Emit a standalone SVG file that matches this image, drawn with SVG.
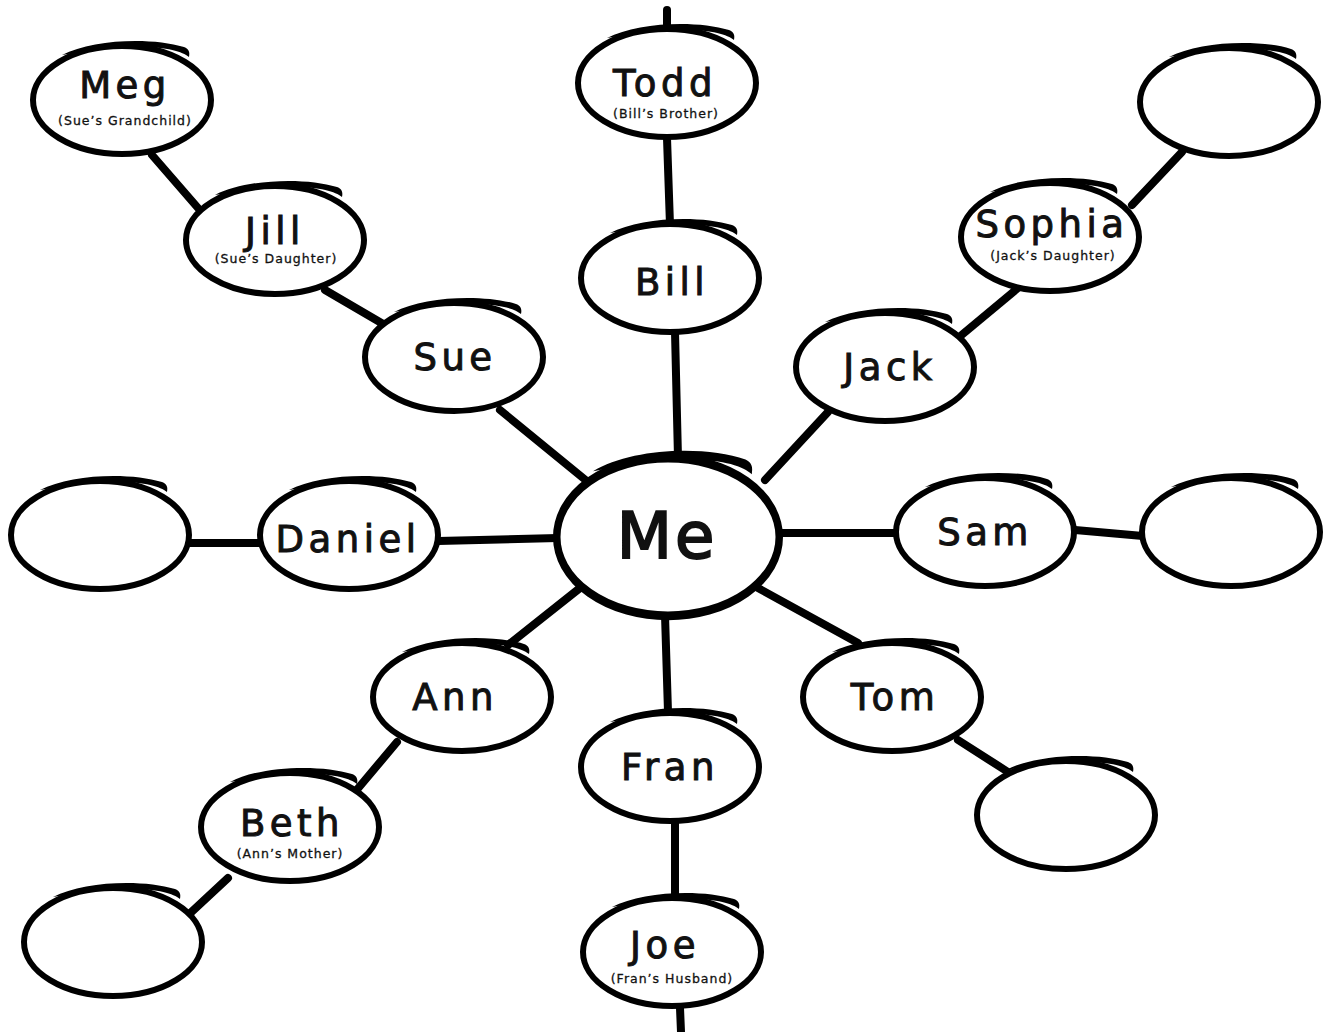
<svg xmlns="http://www.w3.org/2000/svg" xmlns:xlink="http://www.w3.org/1999/xlink" width="1330" height="1032" viewBox="0 0 1330 1032">
<style>
.ring{fill:#fff;stroke:#000;stroke-width:6}
.lnk{stroke:#000;stroke-width:8;stroke-linecap:round;fill:none}
.t{font-family:"DejaVu Sans","Liberation Sans",sans-serif;font-size:37px;letter-spacing:4.5px;text-anchor:middle;fill:#111;stroke:#111;stroke-width:1}
.s{font-family:"DejaVu Sans","Liberation Sans",sans-serif;font-size:12.5px;letter-spacing:1px;text-anchor:middle;fill:#111;stroke:#111;stroke-width:0.3}
</style>
<defs>
<g id="ring">
<ellipse class="ring" cx="0" cy="0" rx="89" ry="54"/>
<path d="M-60,-45 C-30,-61 30,-63 62,-53 C67,-51 68,-48 67,-43 C56,-52 20,-59 -60,-45 Z" fill="#000"/>
</g>
</defs>
<rect width="1330" height="1032" fill="#fff"/>
<g id="connectors">
<line class="lnk" x1="667" y1="10" x2="667" y2="28"/>
<line class="lnk" x1="152" y1="155" x2="198" y2="208"/>
<line class="lnk" x1="325" y1="290" x2="390" y2="328"/>
<line class="lnk" x1="500" y1="410" x2="588" y2="482"/>
<line class="lnk" x1="667" y1="138" x2="670" y2="225"/>
<line class="lnk" x1="675" y1="332" x2="678" y2="458"/>
<line class="lnk" x1="828" y1="412" x2="765" y2="480"/>
<line class="lnk" x1="958" y1="338" x2="1018" y2="288"/>
<line class="lnk" x1="1132" y1="205" x2="1182" y2="152"/>
<line class="lnk" x1="438" y1="541" x2="558" y2="538"/>
<line class="lnk" x1="188" y1="543" x2="262" y2="543"/>
<line class="lnk" x1="782" y1="533" x2="896" y2="533"/>
<line class="lnk" x1="1075" y1="530" x2="1143" y2="536"/>
<line class="lnk" x1="580" y1="588" x2="508" y2="645"/>
<line class="lnk" x1="397" y1="742" x2="355" y2="792"/>
<line class="lnk" x1="228" y1="878" x2="185" y2="918"/>
<line class="lnk" x1="665" y1="615" x2="668" y2="712"/>
<line class="lnk" x1="675" y1="822" x2="675" y2="898"/>
<line class="lnk" x1="680" y1="1008" x2="681" y2="1032"/>
<line class="lnk" x1="758" y1="588" x2="858" y2="643"/>
<line class="lnk" x1="958" y1="740" x2="1008" y2="772"/>
</g>
<g id="node-meg"><use xlink:href="#ring" x="122" y="100"/><text class="t" x="125" y="98">Meg</text><text class="s" x="125" y="125">(Sue’s Grandchild)</text></g>
<g id="node-todd"><use xlink:href="#ring" x="667" y="83"/><text class="t" x="665" y="96">Todd</text><text class="s" x="666" y="118">(Bill’s Brother)</text></g>
<g id="node-jill"><use xlink:href="#ring" x="275" y="240"/><text class="t" x="275" y="244">Jill</text><text class="s" x="276" y="263">(Sue’s Daughter)</text></g>
<g id="node-bill"><use xlink:href="#ring" x="670" y="278"/><text class="t" x="672" y="295">Bill</text></g>
<g id="node-sophia"><use xlink:href="#ring" x="1050" y="237"/><text class="t" x="1052" y="237">Sophia</text><text class="s" x="1053" y="260">(Jack’s Daughter)</text></g>
<g id="node-empty-tr"><use xlink:href="#ring" x="1229" y="102"/></g>
<g id="node-sue"><use xlink:href="#ring" x="454" y="357"/><text class="t" x="455" y="370">Sue</text></g>
<g id="node-jack"><use xlink:href="#ring" x="885" y="367"/><text class="t" x="890" y="380">Jack</text></g>
<g id="node-me"><use xlink:href="#ring" transform="translate(668 537) scale(1.25 1.46)"/><text class="t" x="667" y="558" style="font-size:64px;letter-spacing:3px;stroke-width:2">Me</text></g>
<g id="node-daniel"><use xlink:href="#ring" x="349" y="535"/><text class="t" x="348" y="552">Daniel</text></g>
<g id="node-empty-l"><use xlink:href="#ring" x="100" y="535"/></g>
<g id="node-sam"><use xlink:href="#ring" x="985" y="532"/><text class="t" x="985" y="545">Sam</text></g>
<g id="node-empty-r"><use xlink:href="#ring" x="1231" y="532"/></g>
<g id="node-ann"><use xlink:href="#ring" x="462" y="697"/><text class="t" x="455" y="710">Ann</text></g>
<g id="node-tom"><use xlink:href="#ring" x="892" y="697"/><text class="t" x="895" y="710">Tom</text></g>
<g id="node-fran"><use xlink:href="#ring" x="670" y="767"/><text class="t" x="670" y="780">Fran</text></g>
<g id="node-empty-br"><use xlink:href="#ring" x="1066" y="815"/></g>
<g id="node-beth"><use xlink:href="#ring" x="290" y="827"/><text class="t" x="292" y="836">Beth</text><text class="s" x="290" y="858">(Ann’s Mother)</text></g>
<g id="node-empty-bl"><use xlink:href="#ring" x="113" y="942"/></g>
<g id="node-joe"><use xlink:href="#ring" x="672" y="952"/><text class="t" x="665" y="958">Joe</text><text class="s" x="672" y="983">(Fran’s Husband)</text></g>
</svg>
